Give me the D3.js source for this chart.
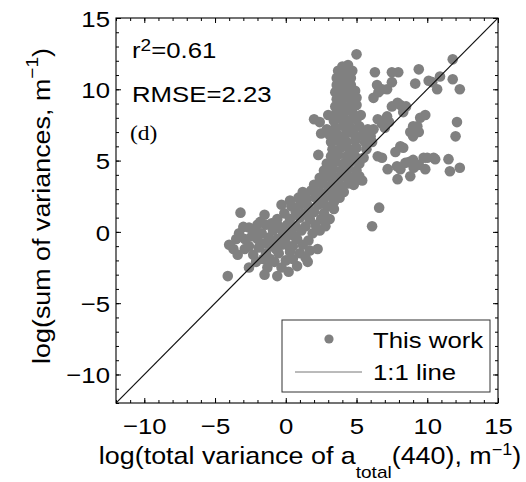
<!DOCTYPE html>
<html>
<head>
<meta charset="utf-8">
<script src="https://cdn.jsdelivr.net/npm/d3@7"></script>
<style>
  body { margin: 0; background: #fff; }
  svg { display: block; }
  text { font-family: Helvetica, Arial, "Liberation Sans", sans-serif; fill: #000; }
</style>
</head>
<body>
<svg id="chart" width="526" height="482"></svg>
<script>
// values
const xTicks = [-10, -5, 0, 5, 10, 15];
const yTicks = [-10, -5, 0, 5, 10, 15];
const r2 = "0.61";
const rmse = "2.23";
const panelTag = "(d)";
const legendLabels = ["This work", "1:1 line"];
const oneToOne = [[-12, -12], [15, 15]];

// log(total variance) vs log(sum of variances)
const thisWork = [
  [-2.6,-2.5],[-1.3,-2.5],[-0.3,-2.5],[0.8,-2.4],
  [-2.1,-2.1],[-1.6,-1.9],[-0.8,-2.1],[0.0,-2.0],[0.5,-1.9],[1.55,-2.1],
  [-3.4,-1.6],[-2.3,-1.6],[-1.4,-1.5],[-0.5,-1.5],[0.3,-1.4],[1.0,-1.5],[1.7,-1.3],
  [-3.7,-1.2],[-2.6,-1.0],[-1.9,-1.1],[-1.0,-1.0],[-0.3,-0.9],[0.5,-1.0],[1.2,-0.9],[2.25,-1.2],
  [-4.0,-0.9],[-2.9,-0.5],[-2.0,-0.5],[-1.2,-0.4],[-0.6,-0.5],[0.0,-0.4],[0.8,-0.5],[1.6,-0.6],
  [-3.3,-0.1],[-2.2,0.0],[-1.7,-0.1],[-0.9,0.1],[-0.2,0.0],[0.4,0.0],[1.1,0.1],[1.9,-0.1],[2.4,0.1],
  [-3.0,0.35],[-2.6,0.3],[-1.4,0.5],[0.1,0.5],[0.7,0.4],[1.4,0.4],[2.1,0.5],[2.8,0.4],
  [-1.8,0.7],[-0.6,0.9],[0.3,0.9],[1.0,1.0],[1.7,0.9],[2.5,0.9],[3.1,0.9],
  [-3.2,1.35],[-1.5,1.2],[-0.1,1.3],[0.7,1.4],[1.3,1.3],[2.0,1.4],[2.7,1.3],[3.4,1.6],
  [-0.3,1.9],[0.4,1.8],[1.0,1.9],[1.6,1.8],[2.3,1.9],[2.9,1.8],[3.4,2.1],
  [0.3,2.2],[0.9,2.4],[1.5,2.3],[2.1,2.4],[2.7,2.3],[3.3,2.5],[3.8,2.4],
  [1.2,2.8],[1.8,2.9],[2.4,2.8],[3.0,2.9],[3.6,2.9],[4.1,2.8],
  [2.0,3.3],[2.6,3.4],[3.2,3.3],[3.8,3.3],[4.4,3.4],[4.8,3.3],[5.4,3.6],
  [2.4,3.8],[3.0,3.9],[3.5,3.8],[4.1,3.9],[4.6,3.8],[5.2,3.9],
  [2.7,4.3],[3.3,4.4],[3.9,4.3],[4.4,4.4],[5.0,4.3],
  [2.9,4.8],[3.5,4.9],[4.1,4.8],[4.6,4.9],[5.2,4.8],
  [2.3,5.4],[3.2,5.3],[3.7,5.4],[4.3,5.3],[4.9,5.3],[5.5,5.2],
  [3.3,5.8],[3.9,5.9],[4.5,5.8],[5.0,5.9],[5.7,5.8],
  [3.2,6.3],[3.7,6.4],[4.3,6.3],[4.9,6.4],[5.6,6.3],
  [2.5,6.9],[3.1,6.8],[3.6,6.9],[4.2,6.8],[4.8,6.9],[5.4,6.8],[6.0,6.7],
  [2.9,7.2],[3.5,7.3],[4.1,7.4],[4.6,7.3],[5.2,7.4],[5.8,7.2],
  [2.0,7.9],[2.4,7.7],[3.4,7.8],[3.9,7.9],[4.5,7.8],[5.0,7.9],
  [3.0,8.2],[3.6,8.4],[4.1,8.3],[4.7,8.4],[5.3,8.2],
  [3.5,8.8],[4.0,8.9],[4.5,8.8],[5.0,8.9],
  [3.6,9.3],[4.1,9.4],[4.6,9.3],[5.0,9.4],
  [3.5,9.8],[4.0,9.9],[4.5,9.8],[4.9,9.9],
  [3.6,10.3],[4.1,10.4],[4.6,10.3],
  [3.6,10.8],[4.1,10.9],[4.6,10.8],
  [3.7,11.3],[4.2,11.4],[4.7,11.3],
  [4.0,11.6],[4.4,11.7],[5.0,12.45],
  [-4.1,-3.1],[-1.5,-3.0],[-0.6,-3.1],[0.2,-2.8],[6.6,1.7],[6.1,0.4],[4.8,3.4],
  [-2.4,-0.3],[-1.5,-0.8],[-0.7,-1.2],[-2.9,-1.2],[-1.1,-1.9],[0.2,-1.0],
  [-0.5,0.4],[-2.0,0.5],[-1.0,0.6],[0.6,-0.3],[-3.5,-0.5],[1.4,-1.8],
  [6.3,11.2],[7.5,11.2],[7.95,11.2],[9.4,11.4],[9.15,10.4],[7.5,10.5],[6.55,9.8],
  [6.2,9.4],[6.8,10.0],[7.16,10.0],[6.45,10.3],
  [10.35,10.5],[10.9,10.9],[10.7,10.0],[10.1,10.6],[11.8,12.1],[11.8,10.7],[12.3,10.0],
  [12.1,7.7],[12.0,6.7],
  [6.8,7.6],[7.0,7.3],[7.3,7.7],[7.16,8.1],[7.5,8.8],[7.9,9.05],[8.1,8.9],[8.5,8.8],
  [8.3,8.4],[6.5,7.9],[6.2,7.2],[9.5,8.0],[9.86,8.2],[9.0,7.4],[8.8,7.0],
  [9.3,7.4],[9.0,6.7],[9.4,7.0],[5.75,6.5],[6.1,6.3],[5.9,7.0],
  [6.8,5.2],[7.75,5.6],[8.3,5.9],[8.1,6.0],[8.7,4.9],[9.0,5.05],[9.4,4.7],[10.0,5.2],
  [10.56,5.1],[9.86,4.4],[8.1,4.4],[7.9,3.7],[8.8,3.9],[11.5,5.1],[11.6,4.25],[12.3,4.5],
  [7.2,4.4],[7.86,4.6],[8.45,4.84],[9.04,4.5],[9.74,5.2],[10.45,5.2],[6.5,5.3]
];

const svg = d3.select("#chart");
const plotLeft = 116, plotRight = 498, plotTop = 18, plotBottom = 403;
const stretch = "scale(1.12,1)";

const x = d3.scaleLinear().domain([-12, 15]).range([plotLeft, plotRight]);
const y = d3.scaleLinear().domain([-12, 15]).range([plotBottom, plotTop]);

svg.append("clipPath").attr("id", "plotclip")
  .append("rect")
  .attr("x", plotLeft).attr("y", plotTop)
  .attr("width", plotRight - plotLeft).attr("height", plotBottom - plotTop);

const plot = svg.append("g").attr("clip-path", "url(#plotclip)");

plot.selectAll(".pt")
  .data(thisWork)
  .enter()
  .append("circle")
  .attr("class", "pt")
  .attr("cx", d => x(d[0]))
  .attr("cy", d => y(d[1]))
  .attr("r", 5.3)
  .attr("fill", "#808080");

plot.append("path")
  .datum(oneToOne)
  .attr("d", d3.line().x(d => x(d[0])).y(d => y(d[1])))
  .attr("fill", "none")
  .attr("stroke", "#111")
  .attr("stroke-width", 1.2);

// ticks on all four sides, pointing inward
function noDomain(g) { g.select(".domain").remove(); }

svg.append("g").attr("transform", `translate(0,${plotBottom})`)
  .call(d3.axisBottom(x).ticks(27).tickSize(-3).tickFormat("")).call(noDomain);
svg.append("g").attr("transform", `translate(0,${plotTop})`)
  .call(d3.axisTop(x).ticks(27).tickSize(-3).tickFormat("")).call(noDomain);
svg.append("g").attr("transform", `translate(${plotLeft},0)`)
  .call(d3.axisLeft(y).ticks(27).tickSize(-3).tickFormat("")).call(noDomain);
svg.append("g").attr("transform", `translate(${plotRight},0)`)
  .call(d3.axisRight(y).ticks(27).tickSize(-3).tickFormat("")).call(noDomain);

svg.append("g").attr("transform", `translate(0,${plotTop})`)
  .call(d3.axisTop(x).tickValues(xTicks).tickSize(-5).tickFormat("")).call(noDomain);
svg.append("g").attr("transform", `translate(${plotRight},0)`)
  .call(d3.axisRight(y).tickValues(yTicks).tickSize(-5).tickFormat("")).call(noDomain);

const xAxis = svg.append("g").attr("transform", `translate(0,${plotBottom})`)
  .call(d3.axisBottom(x).tickValues(xTicks).tickSize(-5).tickFormat(d3.format("d")))
  .call(noDomain);
xAxis.selectAll("text")
  .attr("x", 0).attr("y", 0).attr("dy", null)
  .attr("transform", "translate(0,31) " + stretch)
  .attr("font-size", 23)
  .attr("font-family", "Helvetica, Arial, 'Liberation Sans', sans-serif")
  .attr("fill", "#000");

const yAxis = svg.append("g").attr("transform", `translate(${plotLeft},0)`)
  .call(d3.axisLeft(y).tickValues(yTicks).tickSize(-5).tickFormat(d3.format("d")))
  .call(noDomain);
yAxis.selectAll("text")
  .attr("x", 0).attr("dy", "0.36em")
  .attr("transform", "translate(-6,0) " + stretch)
  .attr("font-size", 23)
  .attr("font-family", "Helvetica, Arial, 'Liberation Sans', sans-serif")
  .attr("fill", "#000");

svg.append("rect")
  .attr("x", plotLeft).attr("y", plotTop)
  .attr("width", plotRight - plotLeft).attr("height", plotBottom - plotTop)
  .attr("fill", "none")
  .attr("stroke", "#000")
  .attr("stroke-width", 1.1);

// axis labels
const xl = svg.append("text")
  .attr("transform", "translate(310,464) " + stretch)
  .attr("text-anchor", "middle")
  .attr("font-size", 24);
xl.append("tspan").text("log(total variance of a");
xl.append("tspan").attr("font-size", 17).attr("dy", 14).text("total");
xl.append("tspan").attr("dy", -14).text("(440), m");
xl.append("tspan").attr("font-size", 16).attr("dy", -9).text("\u22121");
xl.append("tspan").attr("dy", 9).text(")");

const yl = svg.append("text")
  .attr("transform", "translate(50,206) rotate(-90) " + stretch)
  .attr("text-anchor", "middle")
  .attr("font-size", 24);
yl.append("tspan").text("log(sum of variances, m");
yl.append("tspan").attr("font-size", 17).attr("dy", -12).text("\u22121");
yl.append("tspan").attr("dy", 12).text(")");

// statistics
const t1 = svg.append("text").attr("transform", "translate(132,58) " + stretch).attr("font-size", 23);
t1.append("tspan").text("r");
t1.append("tspan").attr("font-size", 17).attr("dy", -7).text("2");
t1.append("tspan").attr("dy", 7).text("=" + r2);

svg.append("text").attr("transform", "translate(132,102) " + stretch)
  .attr("font-size", 23).text("RMSE=" + rmse);

svg.append("text").attr("transform", "translate(130,140) " + stretch)
  .attr("font-size", 21)
  .style("font-family", "'Times New Roman', 'Liberation Serif', serif")
  .text(panelTag);

// legend
const lg = svg.append("g");
lg.append("rect")
  .attr("x", 282).attr("y", 320).attr("width", 208).attr("height", 72)
  .attr("fill", "#fff").attr("stroke", "#333").attr("stroke-width", 1);
lg.append("circle").attr("cx", 329).attr("cy", 339).attr("r", 4.6).attr("fill", "#808080");
lg.append("line").attr("x1", 295).attr("x2", 362).attr("y1", 372).attr("y2", 372)
  .attr("stroke", "#777").attr("stroke-width", 1);
lg.selectAll(".lt")
  .data(legendLabels)
  .enter()
  .append("text")
  .attr("class", "lt")
  .attr("transform", (d, i) => `translate(373,${348 + i * 32}) ${stretch}`)
  .attr("font-size", 23)
  .text(d => d);
</script>
</body>
</html>
